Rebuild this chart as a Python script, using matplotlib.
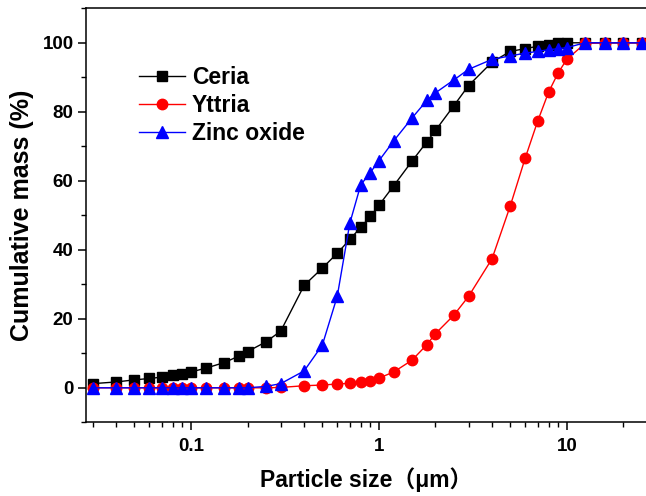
import matplotlib
matplotlib.use('Agg')
import matplotlib.pyplot as plt
from matplotlib.ticker import FixedLocator, LogLocator, NullFormatter, MultipleLocator

plt.rcParams['font.family'] = ['Liberation Sans', 'Noto Sans CJK SC', 'DejaVu Sans']
plt.rcParams['font.weight'] = 'bold'

# particle size grid (um), shared by all three powders
sizes = [0.03, 0.04, 0.05, 0.06, 0.07, 0.08, 0.09, 0.1,
         0.12, 0.15, 0.18, 0.2, 0.25, 0.3,
         0.4, 0.5, 0.6, 0.7, 0.8, 0.9, 1.0,
         1.2, 1.5, 1.8, 2.0, 2.5, 3.0,
         4, 5, 6, 7, 8, 9, 10,
         12.5, 16, 20, 25]

ceria = [1.2, 1.7, 2.3, 2.7, 3.1, 3.6, 4.1, 4.6,
         5.7, 7.3, 9.2, 10.5, 13.3, 16.4,
         29.7, 34.7, 39.0, 43.0, 46.5, 49.7, 52.9,
         58.6, 65.7, 71.3, 74.6, 81.7, 87.6,
         94.4, 97.5, 98.3, 99.0, 99.5, 99.8, 100,
         100, 100, 100, 100]

yttria = [0, 0, 0, 0, 0, 0, 0, 0,
          0, 0, 0, 0, 0, 0.1,
          0.6, 0.8, 1.1, 1.3, 1.7, 2.1, 2.8,
          4.6, 8.0, 12.5, 15.7, 21.0, 26.5,
          37.4, 52.7, 66.5, 77.3, 85.7, 91.3, 95.2,
          99.8, 100, 100, 100]

zinc = [0, 0, 0, 0, 0, 0, 0, 0,
        0, 0, 0, 0, 0.4, 1.2,
        4.9, 12.4, 26.5, 47.7, 58.8, 62.4, 65.8,
        71.6, 78.2, 83.3, 85.5, 89.2, 92.3,
        95.2, 96.2, 97.0, 97.5, 98.0, 98.3, 98.6,
        100, 100, 100, 100]

fig = plt.figure(figsize=(6.46, 4.96), dpi=100)
ax = fig.add_axes([86 / 646, 1 - 422.3 / 496, 560 / 646, 414 / 496])

ax.plot(sizes, ceria, color='black', lw=1.0, marker='s', ms=6.5, label='Ceria')
ax.plot(sizes, yttria, color='red', lw=1.0, marker='o', ms=7.5, label='Yttria')
ax.plot(sizes, zinc, color='blue', lw=1.0, marker='^', ms=8, label='Zinc oxide')

ax.set_xscale('log')
ax.set_xlim(0.0276, 26.4)
ax.set_ylim(-10, 110)

ax.xaxis.set_major_locator(FixedLocator([0.1, 1, 10]))
ax.set_xticklabels(['0.1', '1', '10'])
ax.xaxis.set_minor_locator(LogLocator(base=10, subs=range(2, 10)))
ax.xaxis.set_minor_formatter(NullFormatter())
ax.yaxis.set_major_locator(MultipleLocator(20))
ax.yaxis.set_minor_locator(MultipleLocator(10))

for s in ax.spines.values():
    s.set_linewidth(1.1)
ax.spines['right'].set_visible(False)

ax.tick_params(which='major', direction='out', length=6, width=1.1, labelsize=13.5)
ax.tick_params(which='minor', direction='out', length=3.5, width=1.0)
ax.tick_params(axis='x', which='major', pad=5)
ax.tick_params(axis='y', which='major', pad=3)
ax.tick_params(right=False, top=False)

ax.set_xlabel('Particle size（μm）', fontsize=16.5, fontweight='bold', labelpad=9)
ax.set_ylabel('Cumulative mass (%)', fontsize=18, fontweight='bold', labelpad=6)

ax.legend(loc='upper left', bbox_to_anchor=(0.095, 0.86), frameon=False,
          fontsize=16.5, handlelength=2.0, handletextpad=0.3, labelspacing=0.22,
          borderaxespad=0, borderpad=0)

fig.savefig('out.png', dpi=100)
